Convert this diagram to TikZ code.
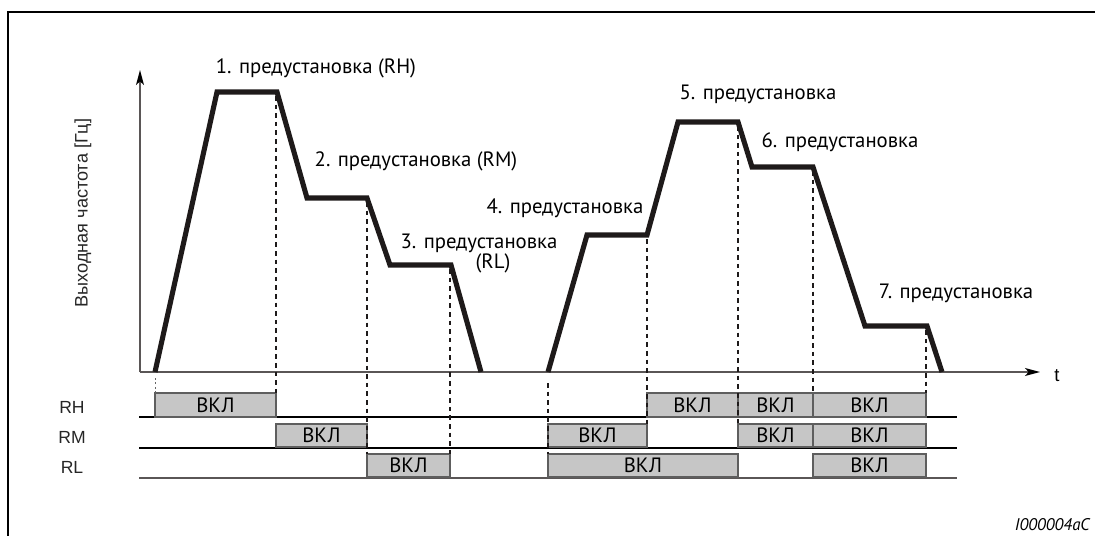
\documentclass[tikz,border=0pt]{standalone}
\usepackage{fontspec}
\setmainfont{PT Sans}
\newfontfamily\arialf{Liberation Sans}
\usetikzlibrary{arrows.meta}
\definecolor{axisgray}{HTML}{5A5656}
\definecolor{barfill}{HTML}{C6C6C6}
\definecolor{bardraw}{HTML}{5E5E5E}
\definecolor{curvecol}{HTML}{1E1A1A}
\begin{document}
\begin{tikzpicture}[x=0.2mm,y=-0.2mm,
  curve/.style={line width=2.9pt, line join=miter, draw=curvecol},
  axisline/.style={line width=0.8pt, draw=axisgray, -{Stealth[length=8.5pt,width=4.5pt,inset=2pt,color=black,fill=black]}},
  vdash/.style={line width=1.1pt, draw=curvecol, dash pattern=on 2.6pt off 2.3pt},
  bar/.style={draw=bardraw, fill=barfill, line width=0.7pt},
  rowline/.style={line width=0.7pt},
  preset/.style={font=\fontsize{11.8}{13}\selectfont, inner sep=0pt},
  vkl/.style={font=\fontsize{11.8}{13}\selectfont, inner sep=0pt},
  sigl/.style={font=\arialf\fontsize{10}{12}\selectfont, inner sep=0pt, text=black!85}
]
\useasboundingbox (0,0) rectangle (1095,536);
% frame
\draw[line width=1.3pt] (1095,12) -- (8,12) -- (8,536);

% axes
\coordinate (origin) at (140,372);
\coordinate (ytip) at (140,70);
\coordinate (xtip) at (1040,372);
\draw[axisline] (origin) -- (ytip);
\draw[axisline] (origin) -- (xtip);
\node[font=\arialf\fontsize{10.5}{12}\selectfont, inner sep=0pt] (tlab) at (1057,376) {t};
\node[font=\arialf\fontsize{10.3}{12}\selectfont, inner sep=0pt, rotate=90, text=black!85] (ylab) at (83,213) {Выходная частота [Гц]};

% rows
\node[sigl] (lrh) at (72,407) {RH};
\node[sigl] (lrm) at (72,437) {RM};
\node[sigl] (lrl) at (72,467) {RL};
\coordinate (rhs) at (139,417); \coordinate (rhe) at (957,417);
\coordinate (rms) at (139,448); \coordinate (rme) at (957,448);
\coordinate (rls) at (139,478); \coordinate (rle) at (957,478);
\draw[rowline] (rhs) -- (rhe);
\draw[rowline] (rms) -- (rme);
\draw[rowline, draw=axisgray] (rls) -- (rle);

% bars RH
\draw[bar] (155,393) rectangle (276,417);
\draw[bar] (647,393) rectangle (738,417);
\draw[bar] (738,393) rectangle (813,417);
\draw[bar] (813,393) rectangle (926,417);
% bars RM
\draw[bar] (276,424) rectangle (367,447);
\draw[bar] (548,424) rectangle (647,447);
\draw[bar] (738,424) rectangle (813,447);
\draw[bar] (813,424) rectangle (926,447);
% bars RL
\draw[bar] (367,454) rectangle (450,477);
\draw[bar] (548,454) rectangle (738,477);
\draw[bar] (813,454) rectangle (926,477);

\node[vkl] (rh1) at (215.5,405) {ВКЛ};
\node[vkl] (rh2) at (692.5,405) {ВКЛ};
\node[vkl] (rh3) at (775.5,405) {ВКЛ};
\node[vkl] (rh4) at (869.5,405) {ВКЛ};
\node[vkl] (rm1) at (321.5,435.5) {ВКЛ};
\node[vkl] (rm2) at (597.5,435.5) {ВКЛ};
\node[vkl] (rm3) at (775.5,435.5) {ВКЛ};
\node[vkl] (rm4) at (869.5,435.5) {ВКЛ};
\node[vkl] (rl1) at (408.5,465.5) {ВКЛ};
\node[vkl] (rl2) at (643,465.5) {ВКЛ};
\node[vkl] (rl3) at (869.5,465.5) {ВКЛ};

% curve
\coordinate (p0) at (155,372);
\coordinate (p1) at (217,92);
\coordinate (p2) at (277,92);
\coordinate (p3) at (307,198);
\coordinate (p4) at (367,198);
\coordinate (p5) at (390,265);
\coordinate (p6) at (451,265);
\coordinate (p7) at (481,372);
\coordinate (q0) at (548,372);
\coordinate (q1) at (587,235);
\coordinate (q2) at (647,235);
\coordinate (q3) at (678,122);
\coordinate (q4) at (738,122);
\coordinate (q5) at (752,167);
\coordinate (q6) at (813,167);
\coordinate (q7) at (865,326);
\coordinate (q8) at (927,326);
\coordinate (q9) at (942,372);
\draw[curve] (p0) -- (p1) -- (p2) -- (p3) -- (p4) -- (p5) -- (p6) -- (p7);
\draw[curve] (q0) -- (q1) -- (q2) -- (q3) -- (q4) -- (q5) -- (q6) -- (q7) -- (q8) -- (q9);

% dashed guides
\coordinate (d1a) at (276,96);  \coordinate (d1b) at (276,393);
\coordinate (d2a) at (367,202); \coordinate (d2b) at (367,454);
\coordinate (d3a) at (450,269); \coordinate (d3b) at (450,454);
\coordinate (d4a) at (548,383); \coordinate (d4b) at (548,454);
\coordinate (d5a) at (647,239); \coordinate (d5b) at (647,424);
\coordinate (d6a) at (738,126); \coordinate (d6b) at (738,424);
\coordinate (d7a) at (813,171); \coordinate (d7b) at (813,393);
\coordinate (d8a) at (926,330); \coordinate (d8b) at (926,393);
\coordinate (d0a) at (155,378); \coordinate (d0b) at (155,393);
\draw[vdash] (d1a) -- (d1b);
\draw[vdash] (d2a) -- (d2b);
\draw[vdash] (d3a) -- (d3b);
\draw[vdash] (d4a) -- (d4b);
\draw[vdash] (d5a) -- (d5b);
\draw[vdash] (d6a) -- (d6b);
\draw[vdash] (d7a) -- (d7b);
\draw[vdash] (d8a) -- (d8b);
\draw[line width=0.4pt, draw=black!60, dash pattern=on 1pt off 1.5pt] (d0a) -- (d0b);

% preset labels
\node[preset] (l1) at (316,68) {1. предустановка (RH)};
\node[preset] (l2) at (416,161) {2. предустановка (RM)};
\node[preset] (l3) at (479,243) {3. предустановка};
\node[preset] (l3b) at (493,263) {(RL)};
\node[preset] (l4) at (565,208) {4. предустановка};
\node[preset] (l5) at (758,94) {5. предустановка};
\node[preset] (l6) at (840,142) {6. предустановка};
\node[preset] (l7) at (956,293) {7. предустановка};

\node[font=\itshape\fontsize{9.6}{11}\selectfont, inner sep=0pt, anchor=east] (code) at (1090,525) {I000004aC};
\end{tikzpicture}
\end{document}
